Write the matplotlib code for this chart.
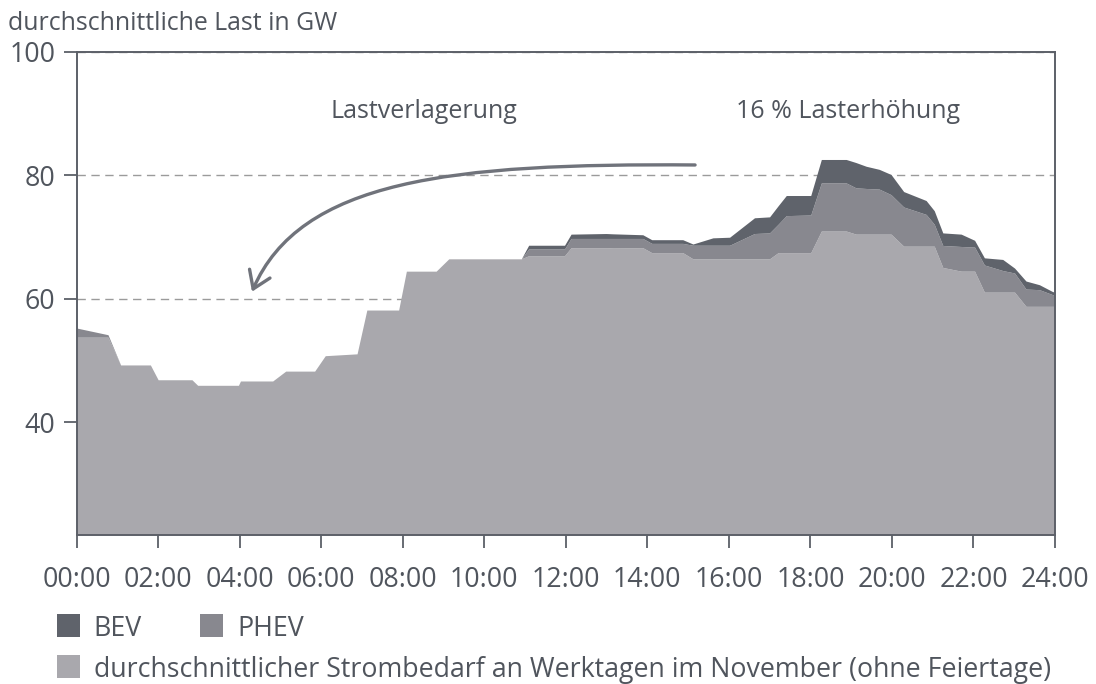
import matplotlib
matplotlib.use("Agg")
import matplotlib.pyplot as plt
from matplotlib.patches import FancyArrowPatch, Rectangle
from matplotlib.path import Path
import numpy as np

# ---------------- data ----------------
hours = [0, 0.78, 1.09, 1.82, 2.01, 2.84, 2.98, 3.98, 4.03, 4.82, 5.14, 5.85,
         6.11, 6.89, 7.13, 7.91, 8.1, 8.83, 9.14, 10.92, 11.1, 11.98, 12.14,
         13.0, 13.17, 13.9, 14.12, 14.88, 15.13, 15.62, 16.03, 16.64, 17.01,
         17.22, 17.42, 18.02, 18.28, 18.89, 19.13, 19.38, 19.7, 19.99, 20.3,
         20.85, 21.05, 21.26, 21.71, 22.04, 22.28, 22.73, 23.02, 23.3, 23.63,
         23.95, 24.0]

# durchschnittlicher Strombedarf (GW)
base = [53.7, 53.7, 49.2, 49.2, 46.8, 46.8, 45.9, 45.9, 46.6, 46.6, 48.2, 48.2,
        50.7, 51.0, 58.1, 58.1, 64.4, 64.4, 66.4, 66.4, 66.9, 66.9, 68.2,
        68.2, 68.15, 68.2, 67.4, 67.4, 66.4, 66.4, 66.4, 66.4, 66.4,
        67.4, 67.4, 67.4, 70.9, 70.9, 70.4, 70.4, 70.4, 70.4, 68.45,
        68.45, 68.45, 65.0, 64.4, 64.4, 61.0, 61.0, 61.0, 58.7, 58.7,
        58.7, 58.7]

# cumulative top of base + PHEV (GW)
phev_top = [55.2, 54.1, 49.2, 49.2, 46.8, 46.8, 45.9, 45.9, 46.6, 46.6, 48.2, 48.2,
            50.7, 51.0, 58.1, 58.1, 64.4, 64.4, 66.4, 66.4, 68.0, 68.0, 69.7,
            69.7, 69.7, 69.7, 68.9, 68.9, 68.6, 68.6, 68.6, 70.5, 70.6,
            72.0, 73.4, 73.5, 78.7, 78.7, 77.9, 77.8, 77.7, 76.8, 74.8,
            73.6, 72.0, 68.56, 68.4, 68.3, 65.4, 64.5, 64.1, 61.5, 61.4,
            60.6, 60.4]

# cumulative top of base + PHEV + BEV (GW)
bev_top = [55.2, 54.1, 49.2, 49.2, 46.8, 46.8, 45.9, 45.9, 46.6, 46.6, 48.2, 48.2,
           50.7, 51.0, 58.1, 58.1, 64.4, 64.4, 66.4, 66.4, 68.6, 68.6, 70.4,
           70.5, 70.45, 70.3, 69.5, 69.5, 68.8, 69.8, 69.9, 73.05, 73.2,
           75.0, 76.66, 76.66, 82.5, 82.5, 82.0, 81.4, 80.9, 80.07, 77.3,
           75.85, 74.2, 70.6, 70.4, 69.4, 66.56, 66.3, 64.9, 62.8, 62.2,
           61.1, 61.0]

phev = list(np.array(phev_top) - np.array(base))
bev = list(np.array(bev_top) - np.array(phev_top))

x_ticks = list(range(0, 25, 2))
x_labels = [f"{h:02d}:00" for h in x_ticks]
y_ticks = [40, 60, 80, 100]

series_names = ["BEV", "PHEV",
                "durchschnittlicher Strombedarf an Werktagen im November (ohne Feiertage)"]

# ---------------- style ----------------
FONT = ["Open Sans", "DejaVu Sans"]
plt.rcParams["font.family"] = FONT
TXT = "#50555d"
SPINE = "#5c6068"
C_BASE = "#a9a8ad"
C_PHEV = "#88888f"
C_BEV = "#5f636b"
ARROW = "#70737b"

W, H = 1096, 684
fig = plt.figure(figsize=(W / 100, H / 100), dpi=100)
ax = fig.add_axes([76.7 / W, 1 - 535 / H, (1055 - 76.7) / W, (535 - 52) / H])

ax.stackplot(hours, base, phev, bev, colors=[C_BASE, C_PHEV, C_BEV],
             linewidth=0, zorder=1)

ax.set_xlim(0, 24)
ax.set_ylim(21.72, 100)
ax.set_xticks(x_ticks)
ax.set_xticklabels(x_labels)
ax.set_yticks(y_ticks)

ax.set_axisbelow(True)
ax.yaxis.grid(True, color="#9b9b9b", linewidth=1.0, dashes=(6, 4))
ax.xaxis.grid(False)

for s in ax.spines.values():
    s.set_color(SPINE)
    s.set_linewidth(1.4)
    s.set_zorder(3)

ax.tick_params(axis="both", direction="out", length=9.5, width=1.3,
               color=SPINE, labelcolor=TXT, labelsize=19.3)
ax.tick_params(axis="x", pad=13)
ax.tick_params(axis="y", pad=6)

# title
fig.text(8 / W, 1 - 29.5 / H, "durchschnittliche Last in GW", fontsize=17.9,
         color=TXT, ha="left", va="baseline")

# annotations
fig.text(423.5 / W, 1 - 118 / H, "Lastverlagerung", fontsize=18, color=TXT,
         ha="center", va="baseline")
fig.text(848 / W, 1 - 118 / H, "16 % Lasterhöhung", fontsize=18, color=TXT,
         ha="center", va="baseline")

# curved arrow (cubic Bezier in data coordinates)
verts = [(15.17, 81.69), (9.16, 82.0), (5.48, 79.25), (4.30, 61.15)]
path = Path(verts, [Path.MOVETO, Path.CURVE4, Path.CURVE4, Path.CURVE4])
arr = FancyArrowPatch(path=path, arrowstyle="->,head_length=0.6,head_width=0.4",
                      mutation_scale=20, color=ARROW, linewidth=2.4,
                      capstyle="round", zorder=4, transform=ax.transData)
ax.add_patch(arr)

# legend (manual)
legend_items = [
    (series_names[0], C_BEV, 56.7, 614),
    (series_names[1], C_PHEV, 200, 614),
    (series_names[2], C_BASE, 56.7, 655),
]
for name, col, px, py in legend_items:
    fig.add_artist(Rectangle((px / W, 1 - (py + 23) / H), 23 / W, 23 / H,
                             transform=fig.transFigure, facecolor=col,
                             edgecolor="none"))
    fig.text((px + 37) / W, 1 - (py + 11.5) / H, name, fontsize=19.3, color=TXT,
             ha="left", va="center_baseline")

fig.savefig("out.png", dpi=100)
